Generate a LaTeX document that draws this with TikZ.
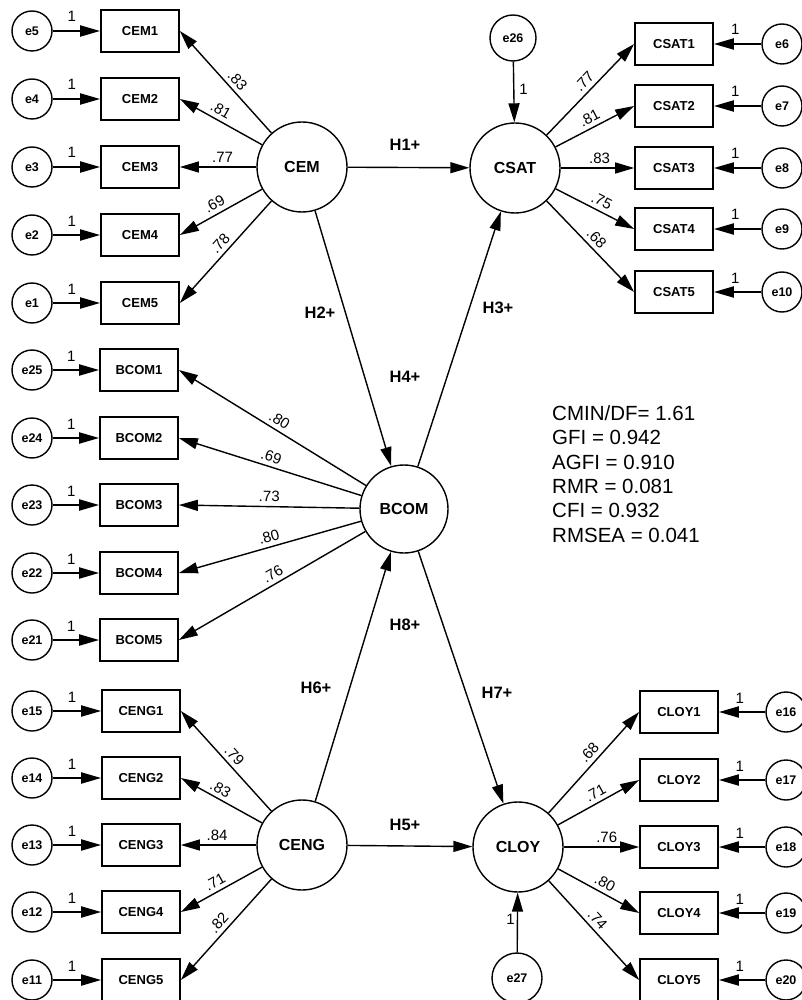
\documentclass[tikz,border=0pt]{standalone}
\usepackage{fontspec}
\setmainfont{Liberation Sans}
\usetikzlibrary{arrows.meta}
\begin{document}
\begin{tikzpicture}[x=1pt,y=-1pt,
  lat/.style={circle, draw, line width=1.4pt, minimum size=90pt, inner sep=0pt, font=\fontsize{16}{18}\selectfont\bfseries},
  err/.style={circle, draw, line width=1.4pt, minimum size=40pt, inner sep=0pt, font=\fontsize{12.5}{14}\selectfont\bfseries},
  obs/.style={rectangle, draw, line width=1.7pt, minimum width=78pt, minimum height=42pt, inner sep=0pt, font=\fontsize{13}{15}\selectfont\bfseries},
  arr/.style={-{Triangle[length=19pt,width=11pt]}, line width=1.4pt},
  earr/.style={-{Triangle[length=20pt,width=11pt]}, line width=2pt},
  lab/.style={font=\fontsize{15}{16}\selectfont, sloped, above=4pt, inner sep=0pt},
  hyp/.style={font=\fontsize{16.5}{18}\selectfont\bfseries},
  one/.style={font=\fontsize{15}{16}\selectfont, inner sep=0pt}]
\fill[white] (0,0) rectangle (801,1000);
\useasboundingbox (0,0) rectangle (801,1000);

% latent variables
\node[lat] (CEM) at (302,167) {CEM};
\node[lat] (CSAT) at (515,168) {CSAT};
\node[lat, minimum size=88pt] (BCOM) at (404,509) {BCOM};
\node[lat] (CENG) at (302,845) {CENG};
\node[lat] (CLOY) at (518,847) {CLOY};
\node[err, minimum size=46pt] (e26) at (513,38) {e26};
\node[err, minimum size=50pt] (e27) at (517,978) {e27};

% CEM indicators
\foreach \i/\y/\e in {1/31/5, 2/99/4, 3/167/3, 4/235/2, 5/303/1} {
  \node[obs] (CEM\i) at (140,\y) {CEM\i};
  \node[err] (e\e) at (32,\y) {e\e};
  \draw[earr] (e\e) -- node[one, pos=0.4, above=8pt]{1} (CEM\i);
}
% BCOM indicators
\foreach \i/\y/\e in {1/370/25, 2/438/24, 3/505/23, 4/573/22, 5/640/21} {
  \node[obs] (BCOM\i) at (139,\y) {BCOM\i};
  \node[err] (e\e) at (32,\y) {e\e};
  \draw[earr] (e\e) -- node[one, pos=0.4, above=8pt]{1} (BCOM\i);
}
% CENG indicators
\foreach \i/\y/\e in {1/711/15, 2/778/14, 3/845/13, 4/912/12, 5/980/11} {
  \node[obs] (CENG\i) at (141,\y) {CENG\i};
  \node[err] (e\e) at (32,\y) {e\e};
  \draw[earr] (e\e) -- node[one, pos=0.4, above=8pt]{1} (CENG\i);
}
% CSAT indicators
\foreach \i/\y/\e in {1/44/6, 2/106/7, 3/168/8, 4/229/9, 5/292/10} {
  \node[obs] (CSAT\i) at (674,\y) {CSAT\i};
  \node[err] (e\e) at (782,\y) {e\e};
  \draw[earr] (e\e) -- node[one, pos=0.55, above=8pt]{1} (CSAT\i);
}
% CLOY indicators
\foreach \i/\y/\e in {1/712/16, 2/780/17, 3/847/18, 4/913/19, 5/980/20} {
  \node[obs] (CLOY\i) at (679,\y) {CLOY\i};
  \node[err] (e\e) at (786,\y) {e\e};
  \draw[earr] (e\e) -- node[one, pos=0.55, above=8pt]{1} (CLOY\i);
}

% loadings
\draw[arr] (CEM) -- node[lab,pos=0.45]{.83} (CEM1.east);
\draw[arr] (CEM) -- node[lab,pos=0.56]{.81} (CEM2.east);
\draw[arr] (CEM) -- node[lab,pos=0.44]{.77} (CEM3.east);
\draw[arr] (CEM) -- node[lab,pos=0.52]{.69} (CEM4.east);
\draw[arr] (CEM) -- node[lab,pos=0.48]{.78} (CEM5.east);

\draw[arr] (CSAT) -- node[lab,pos=0.51]{.77} (CSAT1.west);
\draw[arr] (CSAT) -- node[lab,pos=0.49]{.81} (CSAT2.west);
\draw[arr] (CSAT) -- node[lab,pos=0.53]{.83} (CSAT3.west);
\draw[arr] (CSAT) -- node[lab,pos=0.53]{.75} (CSAT4.west);
\draw[arr] (CSAT) -- node[lab,pos=0.49]{.68} (CSAT5.west);

\draw[arr] (BCOM) -- node[lab,pos=0.49]{.80} (BCOM1.east);
\draw[arr] (BCOM) -- node[lab,pos=0.51]{.69} (BCOM2.east);
\draw[arr] (BCOM) -- node[lab,pos=0.50]{.73} (BCOM3.east);
\draw[arr] (BCOM) -- node[lab,pos=0.49]{.80} (BCOM4.east);
\draw[arr] (BCOM) -- node[lab,pos=0.47]{.76} (BCOM5.east);

\draw[arr] (CENG) -- node[lab,pos=0.49]{.79} (CENG1.east);
\draw[arr] (CENG) -- node[lab,pos=0.57]{.83} (CENG2.east);
\draw[arr] (CENG) -- node[lab,pos=0.52]{.84} (CENG3.east);
\draw[arr] (CENG) -- node[lab,pos=0.52]{.71} (CENG4.east);
\draw[arr] (CENG) -- node[lab,pos=0.50]{.82} (CENG5.east);

\draw[arr] (CLOY) -- node[lab,pos=0.53]{.68} (CLOY1.west);
\draw[arr] (CLOY) -- node[lab,pos=0.52]{.71} (CLOY2.west);
\draw[arr] (CLOY) -- node[lab,pos=0.57]{.76} (CLOY3.west);
\draw[arr] (CLOY) -- node[lab,pos=0.52]{.80} (CLOY4.west);
\draw[arr] (CLOY) -- node[lab,pos=0.46]{.74} (CLOY5.west);

% structural paths
\draw[arr] (CEM) -- (CSAT);
\draw[arr] (CEM) -- (BCOM);
\draw[arr] (BCOM) -- (CSAT);
\draw[arr] (CENG) -- (BCOM);
\draw[arr] (BCOM) -- (CLOY);
\draw[arr] (CENG) -- (CLOY);
\draw[arr] (e26) -- node[one, right=5pt, pos=0.45]{1} (CSAT);
\draw[arr] (e27) -- node[one, left=2pt, pos=0.55]{1} (CLOY);

% hypothesis labels
\node[hyp] (h1) at (405,145) {H1+};
\node[hyp] (h2) at (320,313) {H2+};
\node[hyp] (h3) at (498,308) {H3+};
\node[hyp] (h4) at (405,377) {H4+};
\node[hyp] (h8) at (405,625) {H8+};
\node[hyp] (h6) at (316,688) {H6+};
\node[hyp] (h7) at (497,693) {H7+};
\node[hyp] (h5) at (405,825) {H5+};

% fit statistics
\node[anchor=west, align=left, inner sep=0pt, font=\fontsize{20.5}{24.4}\selectfont] (fit) at (552,474)
 {CMIN/DF= 1.61\\GFI = 0.942\\AGFI = 0.910\\RMR = 0.081\\CFI = 0.932\\RMSEA = 0.041};
\end{tikzpicture}
\end{document}
